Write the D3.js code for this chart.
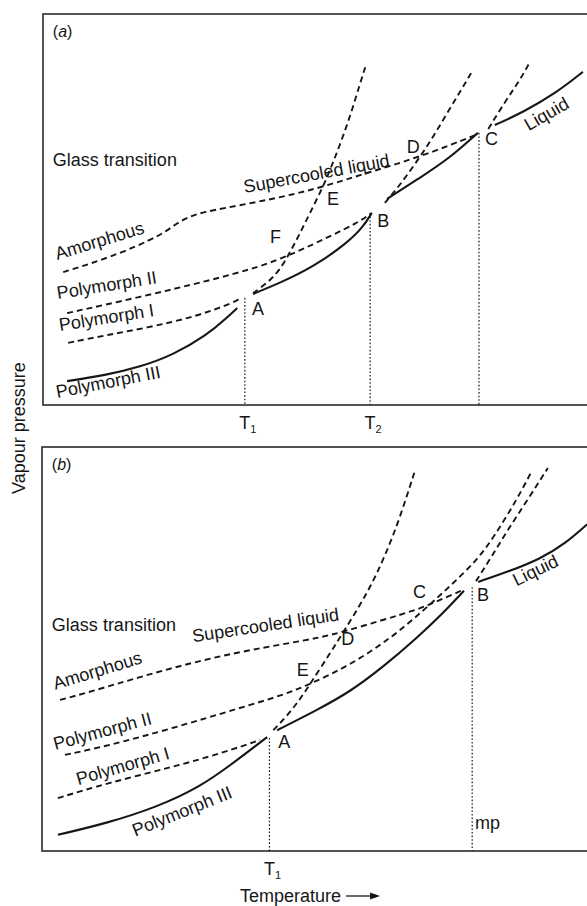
<!DOCTYPE html>
<html>
<head>
<meta charset="utf-8">
<script src="https://cdn.jsdelivr.net/npm/d3@7"></script>
<style>
  html, body { margin: 0; padding: 0; background: #fff; }
  svg { display: block; font-family: "Liberation Sans", Arial, Helvetica, sans-serif; }
</style>
</head>
<body>
<svg id="chart" width="587" height="906"></svg>
<script>
// Schematic vapour pressure vs temperature curves, arbitrary units (0-100 on both axes).

// ---- (a) enantiotropic system ----
const aPolymorph3 = [[4.4,6.1],[11.7,7.7],[17.7,9.7],[23.8,12.8],[30.0,17.9],[33.6,22.3],[35.5,24.8]];
const aPolymorph1 = [[4.6,15.9],[11.7,17.9],[19.6,19.9],[27.4,22.5],[31.1,24.3],[34.7,26.1],[36.2,27.4]];
const aStableAB   = [[38.4,28.4],[43.3,31.2],[49.4,35.3],[55.6,41.4],[58.5,45.5],[60.1,49.1]];
const aStableBC   = [[62.9,52.7],[68.9,58.1],[74.4,63.2],[79.5,69.6]];
const aLiquid     = [[82.6,71.6],[87.8,74.9],[94.0,80.0],[98.7,85.2]];
const aPolymorph2 = [[4.4,23.5],[17.7,27.6],[30.0,31.7],[39.7,35.3],[46.4,39.1],[52.5,43.2],[57.4,46.5],[60.1,49.1]];
const aAmorphous  = [[3.7,34.0],[8.6,36.1],[14.6,39.1],[19.6,42.2],[22.3,44.2],[24.5,46.5],[26.9,48.3],[29.6,49.4],
                     [33.3,50.4],[39.1,51.9],[45.2,53.7],[51.2,55.8],[59.8,59.6],[69.5,63.7],[79.5,69.3]];
const aMetaFromA  = [[38.4,28.6],[41.0,31.2],[43.3,34.5],[45.3,39.4],[47.0,44.0],[48.8,49.1],[51.2,55.8],
                     [53.0,61.9],[54.8,68.5],[56.5,75.4],[58.0,82.4],[59.1,87.2]];
const aMetaFromB  = [[62.5,51.7],[65.3,56.3],[68.9,63.4],[71.3,68.5],[73.9,74.7],[76.2,80.0],[78.4,85.2]];
const aMetaFromC  = [[81.4,70.6],[84.8,78.3],[87.2,83.1],[89.0,87.7]];
const aTransitions = [[36.9,27.4],[59.8,49.1],[79.7,69.6]];   // T1, T2, melting
const aTickValues  = [36.9, 59.8];
const aTickNames   = ["1", "2"];

// ---- (b) monotropic system ----
const bPolymorph3 = [[2.9,4.0],[11.9,6.9],[21.0,10.9],[28.8,15.8],[34.9,21.8],[38.5,25.5],[41.1,28.2]];
const bPolymorph1 = [[2.9,13.1],[11.9,16.8],[23.9,20.8],[33.0,24.3],[39.8,27.5]];
const bStableAB   = [[42.9,29.9],[50.2,34.9],[56.2,39.4],[62.2,45.5],[68.4,52.7],[73.2,58.9],[77.0,64.4]];
const bLiquid     = [[79.6,66.6],[85.4,69.3],[90.9,72.3],[95.4,76.0],[99.5,80.9]];
const bPolymorph2 = [[4.2,23.8],[11.9,26.0],[23.9,30.4],[36.1,35.4],[44.0,38.6],[48.9,41.3],[56.2,46.0],
                     [63.5,52.5],[69.5,59.4],[74.5,65.6],[79.4,72.0],[82.7,78.2],[86.7,87.1],[89.4,94.1]];
const bAmorphous  = [[3.3,37.4],[8.8,39.4],[17.9,43.1],[27.0,46.5],[36.1,49.3],[45.3,51.5],[50.2,52.7],
                     [54.9,54.2],[62.2,57.2],[68.4,59.7],[71.4,61.4],[76.8,64.6]];
const bMetaFromA  = [[42.2,29.9],[44.7,33.4],[47.1,37.6],[48.9,41.3],[52.6,49.0],[54.9,54.0],[57.5,59.7],
                     [59.9,65.3],[62.6,73.0],[65.3,82.4],[68.1,94.3]];
const bMetaFromB  = [[79.2,66.8],[82.1,73.0],[85.0,79.5],[88.7,87.1],[92.3,94.8]];
const bTransitions = [[41.5,28.0],[78.5,65.3]];                // T1, melting point
const bTickValues  = [41.5];
const bTickNames   = ["1"];

// ---- text annotations (anchor in data units, rotation in degrees) ----
const aCurveLabels = [
  ["Glass transition", 1.8, 61.1, 0],
  ["Supercooled liquid", 36.9, 54.2, -10.5],
  ["Amorphous", 2.6, 37.1, -17],
  ["Polymorph II", 2.7, 27.1, -9],
  ["Polymorph I", 3.1, 18.9, -9],
  ["Polymorph III", 2.6, 1.8, -11],
  ["Liquid", 88.8, 70.0, -30]
];
const aPointLabels = [["A",38.2,23.0],["B",61.1,45.5],["C",80.8,66.5],["D",66.5,64.4],["E",51.9,51.2],["F",41.5,41.4]];
const bCurveLabels = [
  ["Glass transition", 1.8, 54.5, 0],
  ["Supercooled liquid", 27.6, 51.7, -8.5],
  ["Amorphous", 2.4, 39.9, -17],
  ["Polymorph II", 2.4, 25.0, -15],
  ["Polymorph I", 6.6, 16.3, -16],
  ["Polymorph III", 17.0, 3.5, -22],
  ["Liquid", 86.6, 65.5, -26],
  ["mp", 79.0, 5.4, 0]
];
const bPointLabels = [["A",43.1,25.5],["B",79.4,61.9],["C",67.7,62.6],["D",54.6,51.0],["E",46.5,43.3]];

// ---- drawing ----
const svg = d3.select("#chart");
const ink = "#161616";

const panels = [
  { tag: "a", xr: [43, 590], yr: [405, 14],
    solid: [aPolymorph3, aStableAB, aStableBC, aLiquid],
    dashed: [aPolymorph1, aPolymorph2, aAmorphous, aMetaFromA, aMetaFromB, aMetaFromC],
    drops: aTransitions, ticks: aTickValues, tickNames: aTickNames,
    curveLabels: aCurveLabels, pointLabels: aPointLabels },
  { tag: "b", xr: [42, 590], yr: [851, 447],
    solid: [bPolymorph3, bStableAB, bLiquid],
    dashed: [bPolymorph1, bPolymorph2, bAmorphous, bMetaFromA, bMetaFromB],
    drops: bTransitions, ticks: bTickValues, tickNames: bTickNames,
    curveLabels: bCurveLabels, pointLabels: bPointLabels }
];

panels.forEach(p => {
  const x = d3.scaleLinear().domain([0, 100]).range(p.xr);
  const y = d3.scaleLinear().domain([0, 100]).range(p.yr);
  const g = svg.append("g");

  // frame
  g.append("rect")
    .attr("x", x(0)).attr("y", y(100))
    .attr("width", x(100) - x(0)).attr("height", y(0) - y(100))
    .attr("fill", "none").attr("stroke", "#2a2a2a").attr("stroke-width", 1.6);

  // B-spline keeps the hand-drawn curves smooth while holding their end points
  const line = d3.line().x(d => x(d[0])).y(d => y(d[1])).curve(d3.curveBasis);

  // dotted drop lines at transition temperatures
  g.selectAll(".drop").data(p.drops).join("line")
    .attr("x1", d => x(d[0])).attr("x2", d => x(d[0]))
    .attr("y1", d => y(d[1])).attr("y2", y(0))
    .attr("stroke", ink).attr("stroke-width", 1.2).attr("stroke-dasharray", "1.6,2");

  // metastable (dashed) curves
  g.selectAll(".dash").data(p.dashed).join("path")
    .attr("d", line).attr("fill", "none")
    .attr("stroke", ink).attr("stroke-width", 1.9).attr("stroke-dasharray", "6,4");

  // stable (solid) curves
  g.selectAll(".solid").data(p.solid).join("path")
    .attr("d", line).attr("fill", "none")
    .attr("stroke", ink).attr("stroke-width", 2.1);

  // panel tag
  const tag = g.append("text").attr("x", x(1.8)).attr("y", y(p.tag === "a" ? 94.1 : 94.3))
    .attr("font-size", 16).attr("fill", ink);
  tag.append("tspan").text("(");
  tag.append("tspan").attr("font-style", "italic").text(p.tag);
  tag.append("tspan").text(")");

  // curve labels
  g.selectAll(".clab").data(p.curveLabels).join("text")
    .attr("transform", d => `translate(${x(d[1])},${y(d[2])}) rotate(${d[3]})`)
    .attr("font-size", 18).attr("fill", ink).text(d => d[0]);

  // intersection letters
  g.selectAll(".plab").data(p.pointLabels).join("text")
    .attr("x", d => x(d[1])).attr("y", d => y(d[2]))
    .attr("font-size", 18).attr("fill", ink).text(d => d[0]);

  // temperature ticks T1, T2 under the frame
  const axis = d3.axisBottom(x).tickValues(p.ticks).tickSize(0).tickFormat(() => "");
  const ax = g.append("g").attr("transform", `translate(0,${y(0)})`).call(axis);
  ax.select(".domain").remove();
  ax.selectAll(".tick").each(function(d, i) {
    const t = d3.select(this).select("text")
      .attr("y", 24).attr("dy", 0).attr("font-size", 18)
      .attr("font-family", "Liberation Sans, Arial, sans-serif")
      .attr("fill", ink).attr("text-anchor", "start").attr("x", -6);
    t.append("tspan").text("T");
    t.append("tspan").attr("font-size", 11).attr("dy", 4).text(p.tickNames[i]);
  });
});

// axis titles
svg.append("text")
  .attr("transform", "translate(25,428) rotate(-90)")
  .attr("text-anchor", "middle").attr("font-size", 18).attr("fill", ink)
  .text("Vapour pressure");

const tt = svg.append("text").attr("x", 240).attr("y", 902)
  .attr("font-size", 18).attr("fill", ink).text("Temperature");
const tx = 240 + tt.node().getComputedTextLength() + 5;
svg.append("line").attr("x1", tx).attr("x2", tx + 26).attr("y1", 896).attr("y2", 896)
  .attr("stroke", ink).attr("stroke-width", 1.3);
svg.append("path")
  .attr("d", `M${tx + 34},896 L${tx + 24},892.5 L${tx + 24},899.5 Z`)
  .attr("fill", ink);
</script>
</body>
</html>
